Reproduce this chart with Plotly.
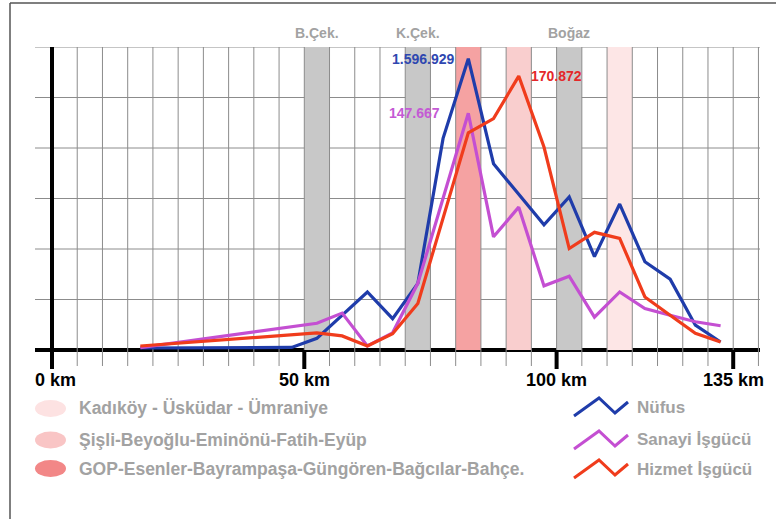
import plotly.graph_objects as go

# ---------------- data ----------------
km_nufus = [17.5, 47.5, 52.5, 62.5, 67.5, 72.5, 77.5, 82.5, 87.5, 97.5,
            102.5, 107.5, 112.5, 117.5, 122.5, 127.5, 132.5]
nufus = [11000, 14000, 64000, 318000, 172000, 365000, 1160000, 1596929,
         1021000, 686000, 839000, 512000, 800000, 484000, 388000, 136000, 44000]

km_isgucu = [17.5, 52.5, 57.5, 62.5, 67.5, 72.5, 82.5, 87.5, 92.5, 97.5,
             102.5, 107.5, 112.5, 117.5, 122.5, 127.5, 132.5]
sanayi = [1500, 16700, 23000, 2500, 10700, 41600, 147667, 70600, 89100,
          40000, 46000, 20500, 36200, 25800, 21700, 17600, 15100]
hizmet = [2500, 10700, 8800, 2500, 10100, 29000, 135500, 144300, 170872,
          126600, 63300, 73400, 69600, 33100, 21700, 10400, 5000]

series_names = ["Nüfus", "Sanayi İşgücü", "Hizmet İşgücü"]
series_colors = ["#1f3caa", "#c44fd2", "#f03c1c"]
label_colors = ["#2f47b0", "#c45ad4", "#e4282a"]

band_from = [50, 70, 80, 90, 100, 110]
band_to = [55, 75, 85, 95, 105, 115]
band_colors = ["#c8c8c8", "#c8c8c8", "#f5a2a2", "#f9cece", "#c8c8c8", "#fde6e6"]

band_titles = ["B.Çek.", "K.Çek.", "Boğaz"]
band_title_km = [52.5, 72.5, 102.5]

tick_km = [0, 50, 100, 135]
tick_text = ["0 km", "50 km", "100 km", "135 km"]

zone_names = ["Kadıköy - Üsküdar - Ümraniye",
              "Şişli-Beyoğlu-Eminönü-Fatih-Eyüp",
              "GOP-Esenler-Bayrampaşa-Güngören-Bağcılar-Bahçe."]
zone_colors = ["#fde2e2", "#f9c5c5", "#f28787"]

# ---------------- scales / layout geometry ----------------
W, H = 776, 519
ML, MR, MT, MB = 35, 16, 47, 147
PW, PH = W - ML - MR, H - MT - MB
X0_PX = 52.0                 # pixel of 0 km
PX_PER_KM = 5.046
XR = [(ML - X0_PX) / PX_PER_KM, (W - MR - X0_PX) / PX_PER_KM]
BASE_PX = 350.0              # baseline pixel
PX_PER_G = (BASE_PX - MT) / 6.0
GMIN = -(H - MB - BASE_PX) / PX_PER_G
NG = 276800                  # people per grid step (population)
WG = 31500                   # workers per grid step (workforce)

def px(x):
    return (x - ML) / PW

def py(y):
    return (H - MB - y) / PH

FONT = "Liberation Sans, Arial, sans-serif"
TXT_GRAY = "#a2a2a2"

fig = go.Figure()
fig.add_trace(go.Scatter(x=km_nufus, y=nufus, mode="lines", name=series_names[0],
                         line=dict(color=series_colors[0], width=3.2), yaxis="y"))
fig.add_trace(go.Scatter(x=km_isgucu, y=sanayi, mode="lines", name=series_names[1],
                         line=dict(color=series_colors[1], width=3.2), yaxis="y2"))
fig.add_trace(go.Scatter(x=km_isgucu, y=hizmet, mode="lines", name=series_names[2],
                         line=dict(color=series_colors[2], width=3.2), yaxis="y2"))

shapes = []
# bands
for a, b, c in zip(band_from, band_to, band_colors):
    shapes.append(dict(type="rect", xref="x", yref="y", x0=a, x1=b, y0=0, y1=6 * NG,
                       fillcolor=c, line=dict(width=0), layer="below"))
# horizontal grid
for g in range(1, 7):
    shapes.append(dict(type="line", xref="paper", yref="y", x0=0, x1=1, y0=g * NG, y1=g * NG,
                       line=dict(color="#8c8c8c", width=1), layer="below"))
# vertical grid
gbot = -(366 - BASE_PX) / PX_PER_G
for k in range(5, 141, 5):
    shapes.append(dict(type="line", xref="x", yref="y", x0=k, x1=k, y0=gbot * NG, y1=6 * NG,
                       line=dict(color="#8c8c8c", width=1), layer="below"))
# thick axes and ticks
tbot = -(369 - BASE_PX) / PX_PER_G
shapes.append(dict(type="line", xref="x", yref="y", x0=0, x1=0, y0=tbot * NG, y1=6.04 * NG,
                   line=dict(color="black", width=4), layer="below"))
for k in tick_km[1:]:
    shapes.append(dict(type="line", xref="x", yref="y", x0=k, x1=k, y0=tbot * NG, y1=0,
                       line=dict(color="black", width=4), layer="below"))
shapes.append(dict(type="line", xref="paper", yref="y", x0=0, x1=1, y0=0, y1=0,
                   line=dict(color="black", width=4), layer="below"))

# image frame (top and left)
shapes.append(dict(type="line", xref="paper", yref="paper", x0=px(10), x1=px(776),
                   y0=py(3), y1=py(3), line=dict(color="#555555", width=1.5)))
shapes.append(dict(type="line", xref="paper", yref="paper", x0=px(10), x1=px(10),
                   y0=py(3), y1=py(519), line=dict(color="#555555", width=1.5)))

annotations = []
# band titles
for t, k in zip(band_titles, band_title_km):
    annotations.append(dict(x=k, y=py(33), xref="x", yref="paper", text=t, showarrow=False,
                            xanchor="center", yanchor="middle",
                            font=dict(family=FONT, size=14, color=TXT_GRAY, weight="bold")))
# x tick labels
for k, t in zip(tick_km, tick_text):
    annotations.append(dict(x=k, y=py(380), xref="x", yref="paper", text=t, showarrow=False,
                            xanchor="center", yanchor="middle",
                            xshift=3 if k == 0 else 0,
                            font=dict(family=FONT, size=18, color="black", weight="bold")))

def fmt(v):
    return f"{v:,}".replace(",", ".")

# peak labels
i = nufus.index(max(nufus))
annotations.append(dict(x=km_nufus[i], y=nufus[i], xref="x", yref="y", text=fmt(nufus[i]),
                        showarrow=False, xanchor="right", yanchor="middle", xshift=-12,
                        font=dict(family=FONT, size=14, color=label_colors[0], weight="bold")))
i = sanayi.index(max(sanayi))
annotations.append(dict(x=km_isgucu[i], y=sanayi[i], xref="x", yref="y2", text=fmt(sanayi[i]),
                        showarrow=False, xanchor="right", yanchor="middle", xshift=-26,
                        font=dict(family=FONT, size=14, color=label_colors[1], weight="bold")))
i = hizmet.index(max(hizmet))
annotations.append(dict(x=km_isgucu[i], y=hizmet[i], xref="x", yref="y2", text=fmt(hizmet[i]),
                        showarrow=False, xanchor="left", yanchor="middle", xshift=10,
                        font=dict(family=FONT, size=14, color=label_colors[2], weight="bold")))

# zone legend (left)
zone_y = [408.5, 440, 468.5]
for n, c, yy in zip(zone_names, zone_colors, zone_y):
    shapes.append(dict(type="circle", xref="paper", yref="paper",
                       x0=px(35), x1=px(66), y0=py(yy - 8.5), y1=py(yy + 8.5),
                       fillcolor=c, line=dict(width=0)))
    annotations.append(dict(x=px(77), y=py(yy), xref="paper", yref="paper", text=n,
                            showarrow=False, xanchor="left", yanchor="middle",
                            font=dict(family=FONT, size=17.5, color=TXT_GRAY, weight="bold")))

# series legend (right)
ser_y = [407, 440, 469]
for n, c, yy in zip(series_names, series_colors, ser_y):
    pts = [(574, yy + 9), (599, yy - 9), (615, yy + 6), (628, yy - 5)]
    path = "M " + " L ".join(f"{px(a):.5f},{py(b):.5f}" for a, b in pts)
    shapes.append(dict(type="path", xref="paper", yref="paper", path=path,
                       line=dict(color=c, width=3)))
    annotations.append(dict(x=px(635), y=py(yy), xref="paper", yref="paper", text=n,
                            showarrow=False, xanchor="left", yanchor="middle",
                            font=dict(family=FONT, size=17, color=TXT_GRAY, weight="bold")))

fig.update_layout(
    width=W, height=H,
    margin=dict(l=ML, r=MR, t=MT, b=MB, pad=0),
    paper_bgcolor="white", plot_bgcolor="white",
    showlegend=False,
    xaxis=dict(range=XR, visible=False, fixedrange=True),
    yaxis=dict(range=[GMIN * NG, 6 * NG], visible=False, fixedrange=True),
    yaxis2=dict(range=[GMIN * WG, 6 * WG], visible=False, overlaying="y", fixedrange=True),
    shapes=shapes,
    annotations=annotations,
)

fig.write_html("out.html", config={"displayModeBar": False},
               post_script="document.body.style.margin='0';document.body.style.overflow='hidden';")
